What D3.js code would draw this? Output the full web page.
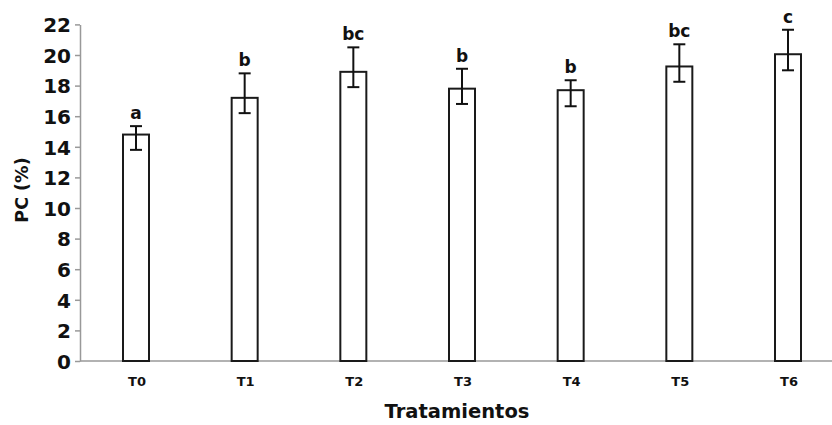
<!DOCTYPE html>
<html>
<head>
    <meta charset="utf-8">
    <script src="https://d3js.org/d3.v7.min.js"></script>
    <style>
        body { margin: 0; background: #fff; }
        svg { display: block; }
        text { font-family: "DejaVu Sans", sans-serif; font-weight: bold; fill: #111; }
    </style>
</head>
<body>
<script>
    /* data */
    var tratamientos = ["T0", "T1", "T2", "T3", "T4", "T5", "T6"];
    var pcMedia = [14.8, 17.2, 18.9, 17.8, 17.7, 19.25, 20.05];
    var errSup = [15.35, 18.8, 20.5, 19.1, 18.35, 20.7, 21.65];
    var errInf = [13.8, 16.2, 17.9, 16.8, 16.65, 18.25, 19.0];
    var letras = ["a", "b", "bc", "b", "b", "bc", "c"];
    var yTicks = [0, 2, 4, 6, 8, 10, 12, 14, 16, 18, 20, 22];

    var width = 832, height = 425;
    var x0 = 80, x1 = 832, yBase = 361, yTop = 24.4;
    var barW = 26, capW = 12;

    var svg = d3.select("body").append("svg")
        .attr("width", width).attr("height", height);

    var x = d3.scalePoint().domain(tratamientos).range([136, 788]);
    var y = d3.scaleLinear().domain([0, 22]).range([yBase, yTop]);

    var data = tratamientos.map(function(t, i) {
        return {t: t, v: pcMedia[i], hi: errSup[i], lo: errInf[i], l: letras[i]};
    });

    /* y axis */
    var yAxis = svg.append("g")
        .attr("transform", "translate(" + x0 + ",0)")
        .call(d3.axisLeft(y).tickValues(yTicks).tickSize(5).tickPadding(4).tickSizeOuter(0));
    yAxis.select(".domain").attr("stroke", "#999").attr("stroke-width", 1.5);
    yAxis.selectAll(".tick line").attr("stroke", "#999").attr("stroke-width", 1.5);
    yAxis.selectAll(".tick text")
        .style("font-size", "20px").attr("fill", "#111").attr("dy", "0.36em");

    /* x axis line */
    svg.append("line")
        .attr("x1", x0).attr("x2", x1)
        .attr("y1", yBase).attr("y2", yBase)
        .attr("stroke", "#999").attr("stroke-width", 1.5);

    svg.selectAll(".xlab").data(tratamientos).enter().append("text")
        .attr("class", "xlab")
        .attr("x", function(d) { return x(d) + 1; })
        .attr("y", 386)
        .attr("text-anchor", "middle")
        .style("font-size", "13px")
        .text(function(d) { return d; });

    /* bars */
    svg.selectAll(".bar").data(data).enter().append("rect")
        .attr("class", "bar")
        .attr("x", function(d) { return x(d.t) - barW / 2; })
        .attr("y", function(d) { return y(d.v); })
        .attr("width", barW)
        .attr("height", function(d) { return yBase - y(d.v); })
        .attr("fill", "#fff")
        .attr("stroke", "#1a1a1a")
        .attr("stroke-width", 2);

    /* error bars */
    var eb = svg.selectAll(".err").data(data).enter().append("g").attr("class", "err")
        .attr("stroke", "#111").attr("stroke-width", 2);
    eb.append("line")
        .attr("x1", function(d) { return x(d.t); })
        .attr("x2", function(d) { return x(d.t); })
        .attr("y1", function(d) { return y(d.hi); })
        .attr("y2", function(d) { return y(d.lo); });
    eb.append("line")
        .attr("x1", function(d) { return x(d.t) - capW / 2; })
        .attr("x2", function(d) { return x(d.t) + capW / 2; })
        .attr("y1", function(d) { return y(d.hi); })
        .attr("y2", function(d) { return y(d.hi); });
    eb.append("line")
        .attr("x1", function(d) { return x(d.t) - capW / 2; })
        .attr("x2", function(d) { return x(d.t) + capW / 2; })
        .attr("y1", function(d) { return y(d.lo); })
        .attr("y2", function(d) { return y(d.lo); });

    /* letters */
    svg.selectAll(".letra").data(data).enter().append("text")
        .attr("class", "letra")
        .attr("x", function(d) { return x(d.t); })
        .attr("y", function(d) { return y(d.hi) - 7; })
        .attr("text-anchor", "middle")
        .style("font-size", "17px")
        .text(function(d) { return d.l; });

    /* axis titles */
    svg.append("text")
        .attr("x", 457).attr("y", 418)
        .attr("text-anchor", "middle")
        .style("font-size", "19.5px")
        .text("Tratamientos");

    svg.append("text")
        .attr("transform", "translate(28,190) rotate(-90)")
        .attr("text-anchor", "middle")
        .style("font-size", "17.5px")
        .text("PC (%)");
</script>
</body>
</html>
